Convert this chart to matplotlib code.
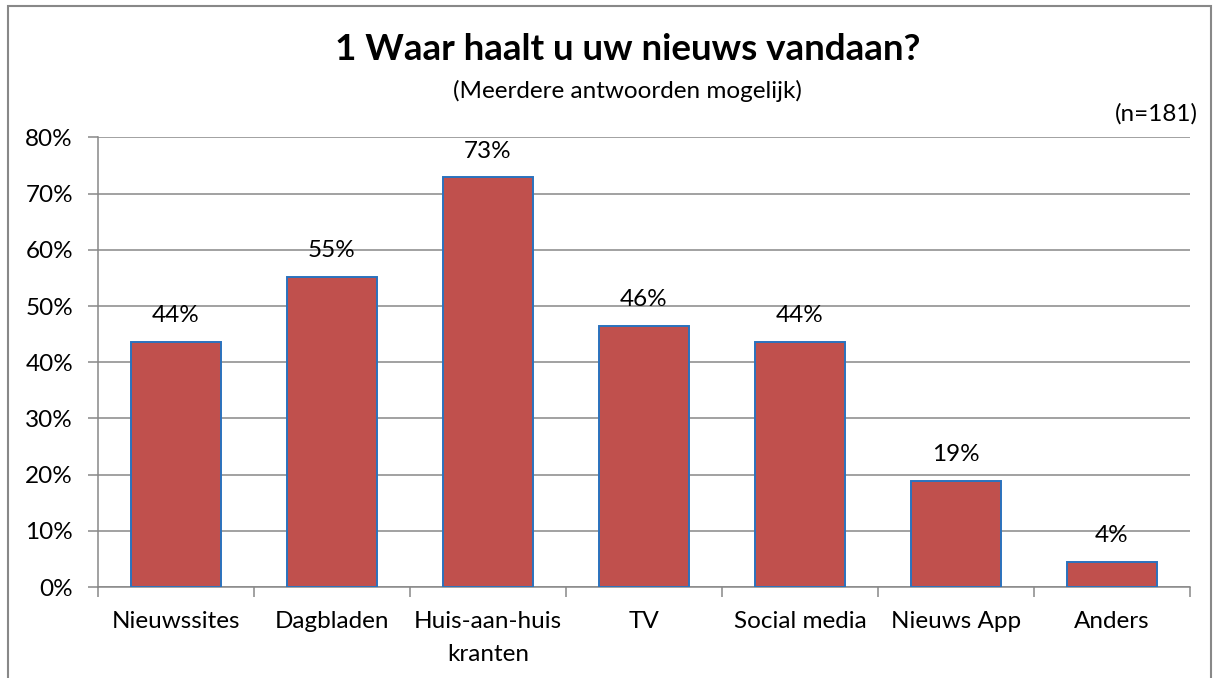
import matplotlib.pyplot as plt
import matplotlib.patches as patches
import numpy as np

plt.rcParams['font.family'] = ['Lato', 'DejaVu Sans']

# survey data (n=181), share of respondents in %
categories = ['Nieuwssites', 'Dagbladen', 'Huis-aan-huis\nkranten', 'TV',
              'Social media', 'Nieuws App', 'Anders']
values = [43.6, 55.2, 72.9, 46.4, 43.6, 18.8, 4.4]
yticks = [0, 10, 20, 30, 40, 50, 60, 70, 80]

grey = '#888888'
fs = 17.5

fig = plt.figure(figsize=(12.14, 6.78), dpi=100)
ax = fig.add_axes([0.0807, 0.1342, 0.8995, 0.663])

x = np.arange(len(categories))
ax.set_axisbelow(True)
ax.yaxis.grid(True, color=grey, linewidth=1.1)
ax.bar(x, values, width=0.575, color='#C0504D', edgecolor='#2A72BE', linewidth=1.4, zorder=3)

for xi, v in zip(x, values):
    ax.annotate(f'{v:.0f}%', (xi, v), xytext=(0, 19), textcoords='offset points',
                ha='center', va='center', fontsize=fs, color='black')

ax.set_xlim(-0.5, len(categories) - 0.5)
ax.set_ylim(0, 80)
ax.set_yticks(yticks)
ax.set_yticklabels([f'{t}%' for t in yticks], fontsize=fs)
ax.set_xticks(x)
ax.set_xticklabels(categories, fontsize=fs, linespacing=1.7)
ax.set_xticks(np.arange(len(categories) + 1) - 0.5, minor=True)
ax.tick_params(axis='x', which='major', length=0, pad=17)
ax.tick_params(axis='x', which='minor', length=7, color=grey, width=1.1)
ax.tick_params(axis='y', length=7, color=grey, width=1.1, pad=11)

for side in ['top', 'right']:
    ax.spines[side].set_visible(False)
for side in ['left', 'bottom']:
    ax.spines[side].set_color(grey)
    ax.spines[side].set_linewidth(1.1)

fig.text(0.517, 1 - 50 / 678, '1 Waar haalt u uw nieuws vandaan?', ha='center', va='center',
         fontsize=26.5, fontweight='bold')
fig.text(0.517, 1 - 91 / 678, '(Meerdere antwoorden mogelijk)', ha='center', va='center',
         fontsize=fs)
fig.text(1198 / 1214, 1 - 114 / 678, '(n=181)', ha='right', va='center', fontsize=fs)

# outer chart border
fig.patches.append(patches.Rectangle((8 / 1214, -0.1), 1203 / 1214, 1.1 - 6 / 678,
                                     transform=fig.transFigure, fill=False,
                                     edgecolor=grey, linewidth=1.5))

fig.savefig('out.png', dpi=100)
